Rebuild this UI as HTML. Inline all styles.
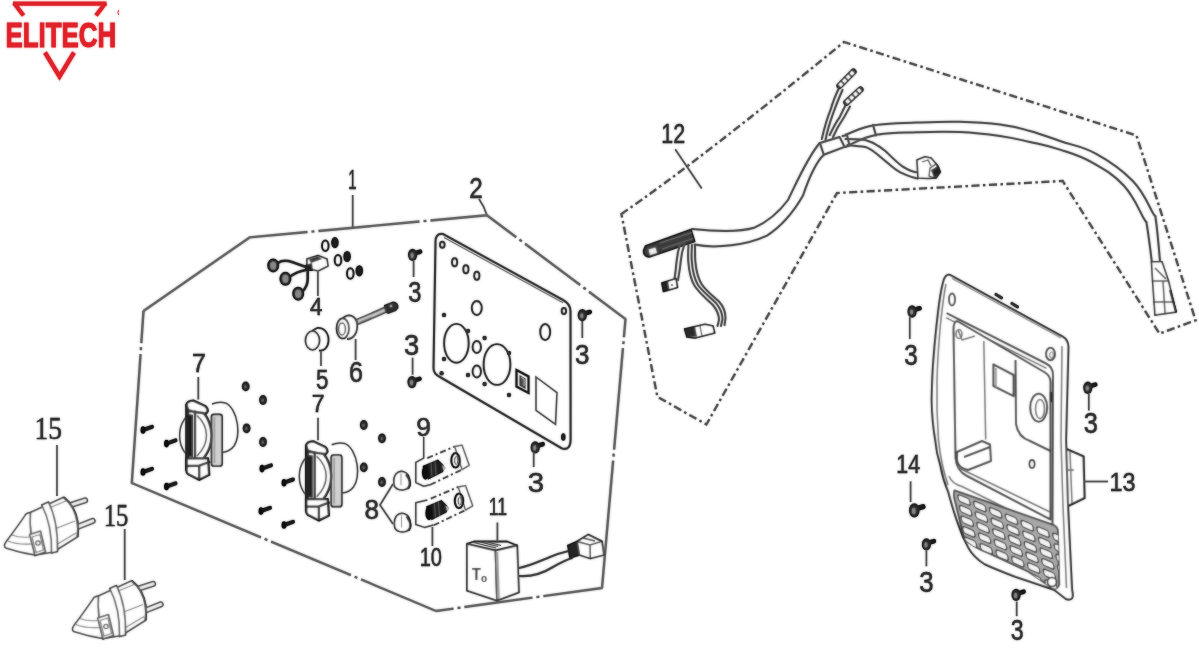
<!DOCTYPE html><html><head><meta charset="utf-8"><style>
html,body{margin:0;padding:0;background:#fff;}
svg{display:block;}
</style></head><body>
<svg width="1199" height="658" viewBox="0 0 1199 658">
<defs>
<g id="screw"><path d="M0,-1 L7.5,-3.2" stroke="#1a1a1a" stroke-width="4.6" stroke-linecap="round"/><ellipse cx="0" cy="0" rx="4.6" ry="6.2" fill="#262626"/><ellipse cx="-0.5" cy="0.5" rx="1.7" ry="2.8" fill="#888"/></g>
<g id="bolt"><path d="M0,0 L9,-3.2" stroke="#1e1e1e" stroke-width="4" stroke-linecap="round"/><ellipse cx="0" cy="0" rx="2.5" ry="3.8" fill="#111"/></g>
<g id="nut"><ellipse cx="0" cy="0" rx="3.9" ry="4.9" fill="#262626"/><ellipse cx="-0.3" cy="0.3" rx="1.2" ry="1.8" fill="#666"/></g>
<g id="washer"><ellipse cx="0" cy="0" rx="3.3" ry="5.3" fill="none" stroke="#2a2a2a" stroke-width="2"/></g>
</defs>
<filter id="fb" filterUnits="userSpaceOnUse" x="0" y="0" width="1199" height="658"><feGaussianBlur stdDeviation="1"/></filter>
<rect width="1199" height="658" fill="#fff"/>
<filter id="f0" filterUnits="userSpaceOnUse" x="0" y="0" width="1199" height="658"><feOffset dx="0" dy="0"/></filter>
<g filter="url(#f0)"><g id="all">

<g fill="#e0222a" stroke="none">
<path d="M13,1.4 L106.5,1.4 L106.5,5.8 L13,5.8 Z"/>
<path d="M14,3 L23.5,15.5" stroke="#e0222a" stroke-width="4.2" stroke-linecap="butt"/>
<path d="M105.5,3 L96,15.5" stroke="#e0222a" stroke-width="4.2" stroke-linecap="butt"/>
<path d="M45,52.5 L59.5,76.5 L74,52.5" stroke="#e0222a" stroke-width="4.4" fill="none" stroke-linejoin="miter"/>
<text transform="translate(6.3,46.5) scale(0.75,1)" font-family="Liberation Sans" font-weight="bold" font-size="34.5" x="-1" stroke="#e0222a" stroke-width="0.9">ELITECH</text>
<path d="M118.8,10 Q117,12.5 118.8,15" stroke="#e0222a" stroke-width="0.9" fill="none"/>
</g>
<path d="M131.8,483 L436,611" stroke="#666" stroke-width="2.4" fill="none" stroke-dasharray="140.1 4.0 3.0 4.0 86.6 4.0 3.0 4.0 83.3 1000.0" stroke-linecap="butt"/>
<path d="M436,611 L602,588" stroke="#666" stroke-width="2.4" fill="none" stroke-dasharray="17.7 4.0 3.0 4.0 68.7 4.0 3.0 4.0 61.1 1000.0" stroke-linecap="butt"/>
<path d="M602,588 L625.5,319" stroke="#666" stroke-width="2.4" fill="none" stroke-dasharray="127.9 4.0 3.0 4.0 101.8 4.0 3.0 4.0 20.3 1000.0" stroke-linecap="butt"/>
<path d="M625.5,319 L486.9,215.2" stroke="#666" stroke-width="2.4" fill="none" stroke-dasharray="45.6 4.0 3.0 4.0 68.9 4.0 3.0 4.0 38.7 1000.0" stroke-linecap="butt"/>
<path d="M486.9,215.2 L249.6,237.4" stroke="#666" stroke-width="2.4" fill="none" stroke-dasharray="56.7 4.0 3.0 4.0 101.5 4.0 3.0 4.0 60.2 1000.0" stroke-linecap="butt"/>
<path d="M249.6,237.4 L143.5,311" stroke="#666" stroke-width="2.4" fill="none" stroke-dasharray="131.1 1000.0" stroke-linecap="butt"/>
<path d="M143.5,311 L131.8,483" stroke="#666" stroke-width="2.4" fill="none" stroke-dasharray="32.2 4.0 3.0 4.0 131.2 1000.0" stroke-linecap="butt"/>
<path d="M131.8,483 L133,483.5 M436,611 L437,610.8 M602,588 L602.1,587 M625.5,319 L625,318.6 M486.9,215.2 L486,215.3 M249.6,237.4 L249,237.8 M143.5,311 L143.4,312" stroke="#707070" stroke-width="2.2" stroke-linecap="round"/>
<path d="M621.4,214 Q700,160 844,42 L1136.5,135.5 L1195.6,320.3 L1159.5,333.6 L1062.7,181 L837,193 L706.4,424.5 L657.4,396.8 Z" stroke="#555" stroke-width="2.3" fill="none" stroke-dasharray="8 3.5 2.5 3.5"/>
<path d="M352.7,195 L352.7,228" stroke="#555" stroke-width="1.7" fill="none"/>
<path d="M479,199 Q484,206 486.9,215" stroke="#555" stroke-width="1.7" fill="none"/>
<path d="M675.2,149.2 L701.7,188.5" stroke="#555" stroke-width="1.7" fill="none"/>
<text transform="translate(352.5,189.0) scale(0.557,1)" x="0" y="0" text-anchor="middle" font-family="Liberation Sans" font-size="26.8" fill="#333" stroke="#333" stroke-width="0.45">1</text>
<text transform="translate(476.1,197.6) scale(0.836,1)" x="0" y="0" text-anchor="middle" font-family="Liberation Sans" font-size="29.0" fill="#333" stroke="#333" stroke-width="0.45">2</text>
<text transform="translate(673.3,142.8) scale(0.798,1)" x="0" y="0" text-anchor="middle" font-family="Liberation Sans" font-size="26.9" fill="#333" stroke="#333" stroke-width="0.45">12</text>
<path d="M435.5,243 Q435,233 443,234 L563,300 Q570.5,304 570.5,311 L570.6,438 Q571,451 562,448.5 L440,377 Q433.5,374 433.5,368 Z" stroke="#3a3a3a" stroke-width="2.1" fill="none"/>
<ellipse cx="442.3" cy="244.7" rx="2.3" ry="3" stroke="#3a3a3a" stroke-width="1.9" fill="none"/>
<ellipse cx="454.6" cy="262.3" rx="2.6" ry="4" stroke="#3a3a3a" stroke-width="1.9" fill="none"/>
<ellipse cx="465.9" cy="269.3" rx="2.6" ry="4" stroke="#3a3a3a" stroke-width="1.9" fill="none"/>
<ellipse cx="476.8" cy="275.7" rx="2.6" ry="4" stroke="#3a3a3a" stroke-width="1.9" fill="none"/>
<ellipse cx="476.8" cy="308" rx="5" ry="7" stroke="#3a3a3a" stroke-width="1.9" fill="none"/>
<ellipse cx="545.2" cy="332" rx="5" ry="8" stroke="#3a3a3a" stroke-width="1.9" fill="none"/>
<ellipse cx="563.9" cy="311" rx="2.2" ry="3" stroke="#3a3a3a" stroke-width="1.9" fill="none"/>
<ellipse cx="456.4" cy="343.3" rx="12.3" ry="19.4" stroke="#3a3a3a" stroke-width="1.9" fill="none"/>
<ellipse cx="497" cy="364.5" rx="13.4" ry="20.4" stroke="#3a3a3a" stroke-width="1.9" fill="none"/>
<ellipse cx="476.8" cy="347" rx="4.2" ry="6" stroke="#3a3a3a" stroke-width="1.9" fill="none"/>
<ellipse cx="476.8" cy="371.5" rx="4.2" ry="6" stroke="#3a3a3a" stroke-width="1.9" fill="none"/>
<circle cx="444" cy="315" r="2.2" fill="#333"/>
<circle cx="468" cy="331" r="2.2" fill="#333"/>
<circle cx="444" cy="359" r="2.2" fill="#333"/>
<circle cx="468" cy="375" r="2.2" fill="#333"/>
<circle cx="484.6" cy="338" r="2.2" fill="#333"/>
<circle cx="484.6" cy="384" r="2.2" fill="#333"/>
<circle cx="509" cy="353" r="2.2" fill="#333"/>
<circle cx="509" cy="395" r="2.2" fill="#333"/>
<circle cx="441.6" cy="373.3" r="2.2" fill="#333"/>
<ellipse cx="563.3" cy="437" rx="2.3" ry="3.8" fill="#222"/>
<path d="M536,377 L557,392.7 L555.5,424.4 L536,410.3 Z" stroke="#555" stroke-width="1.5" fill="none"/>
<path d="M516.5,370 L528.5,376.5 L528.5,393 L516.5,386.5 Z" stroke="#222" stroke-width="2.2" fill="none"/><path d="M519.5,375 L525.5,378.5 L525.5,389 L519.5,385.5 Z" fill="#444"/><path d="M521,377 L524,379 L524,386" stroke="#ccc" stroke-width="1" fill="none"/>
<path d="M444,237.5 L563,302.8" stroke="#777" stroke-width="1.1"/>
<use href="#screw" x="412.6" y="254.9"/>
<use href="#screw" x="582.3" y="315.2"/>
<use href="#screw" x="412" y="382.1"/>
<use href="#screw" x="535.2" y="447.4"/>
<use href="#screw" x="912.1" y="311.5"/>
<use href="#screw" x="1087.8" y="387.8"/>
<use href="#screw" x="926.4" y="544.4"/>
<use href="#screw" x="1016.1" y="594.9"/>
<path d="M413.6,261 L413.6,277" stroke="#555" stroke-width="1.7" fill="none"/>
<text transform="translate(414.9,301.7) scale(0.810,1)" x="0" y="0" text-anchor="middle" font-family="Liberation Sans" font-size="29.2" fill="#333" stroke="#333" stroke-width="0.45">3</text>
<path d="M582.3,321 L582.3,338" stroke="#555" stroke-width="1.7" fill="none"/>
<text transform="translate(582.3,363.8) scale(0.931,1)" x="0" y="0" text-anchor="middle" font-family="Liberation Sans" font-size="27.9" fill="#333" stroke="#333" stroke-width="0.45">3</text>
<path d="M412.6,357.7 L412.6,374.7" stroke="#555" stroke-width="1.7" fill="none"/>
<text transform="translate(411.5,355.0) scale(0.934,1)" x="0" y="0" text-anchor="middle" font-family="Liberation Sans" font-size="29.2" fill="#333" stroke="#333" stroke-width="0.45">3</text>
<path d="M533.7,452 L533.7,467" stroke="#555" stroke-width="1.7" fill="none"/>
<text transform="translate(535.9,491.5) scale(1.053,1)" x="0" y="0" text-anchor="middle" font-family="Liberation Sans" font-size="27.9" fill="#333" stroke="#333" stroke-width="0.45">3</text>
<path d="M909.8,317.2 L909.8,338.9" stroke="#555" stroke-width="1.7" fill="none"/>
<text transform="translate(911.0,364.5) scale(0.816,1)" x="0" y="0" text-anchor="middle" font-family="Liberation Sans" font-size="29.7" fill="#333" stroke="#333" stroke-width="0.45">3</text>
<path d="M1088.8,393.7 L1088.8,410.5" stroke="#555" stroke-width="1.7" fill="none"/>
<text transform="translate(1090.8,433.3) scale(0.864,1)" x="0" y="0" text-anchor="middle" font-family="Liberation Sans" font-size="29.3" fill="#333" stroke="#333" stroke-width="0.45">3</text>
<path d="M926.4,550.5 L926.4,566.3" stroke="#555" stroke-width="1.7" fill="none"/>
<text transform="translate(926.5,591.8) scale(0.887,1)" x="0" y="0" text-anchor="middle" font-family="Liberation Sans" font-size="29.0" fill="#333" stroke="#333" stroke-width="0.45">3</text>
<path d="M1016.7,601.6 L1016.7,616.2" stroke="#555" stroke-width="1.7" fill="none"/>
<text transform="translate(1017.3,639.9) scale(0.769,1)" x="0" y="0" text-anchor="middle" font-family="Liberation Sans" font-size="30.1" fill="#333" stroke="#333" stroke-width="0.45">3</text>
<path d="M692,229 C712,231 737,233 754,227.8 C770,221 782,208 788,200 C796,184 807,158 819.7,143" stroke="#555" stroke-width="2" fill="none" stroke-linecap="round" stroke-linejoin="round"/>
<path d="M694.6,244.6 C716,249 747,245 767,235.6 C785,224 797,206 803,195.5 C809,178 815,163 823.8,154.8" stroke="#555" stroke-width="2" fill="none" stroke-linecap="round" stroke-linejoin="round"/>
<path d="M846.0,134.5 C851.7,132.7 860.2,127.7 874.4,125.3 C888.6,122.9 899.7,123.3 916.8,122.6 C933.9,121.9 943.4,121.4 960.0,121.8 C976.6,122.2 986.0,122.7 1000.0,124.5 C1014.0,126.3 1018.0,127.7 1030.0,131.0 C1042.0,134.3 1046.8,136.4 1060.0,141.0 C1073.2,145.6 1081.6,145.8 1096.2,153.8 C1110.8,161.8 1121.5,169.2 1132.8,181.0 C1144.1,192.8 1148.2,204.8 1152.8,212.8 C1157.4,220.8 1154.5,211.2 1156.0,221.0 C1157.5,230.8 1159.3,253.8 1160.1,262.0" stroke="#555" stroke-width="2" fill="none" stroke-linecap="round" stroke-linejoin="round"/>
<path d="M849.0,145.0 C854.4,143.0 862.2,137.6 875.8,135.0 C889.4,132.4 900.0,132.8 916.8,132.2 C933.6,131.6 943.4,131.2 960.0,132.0 C976.6,132.8 986.0,134.0 1000.0,136.0 C1014.0,138.0 1018.0,139.3 1030.0,142.0 C1042.0,144.7 1047.6,145.5 1060.0,149.6 C1072.4,153.7 1079.2,155.1 1091.9,162.3 C1104.6,169.5 1113.3,174.3 1123.7,185.5 C1134.1,196.7 1139.0,210.2 1143.7,218.3 C1148.4,226.4 1145.4,217.3 1147.0,226.0 C1148.6,234.7 1150.9,254.8 1151.9,262.0" stroke="#555" stroke-width="2" fill="none" stroke-linecap="round" stroke-linejoin="round"/>
<path d="M873,125 L876,135.5" stroke="#555" stroke-width="2" fill="none" stroke-linecap="round" stroke-linejoin="round"/>
<path d="M821.8,139 C825,125 828,116 830.7,109.4 C833,101 836,94 839.6,86.7" stroke="#555" stroke-width="2" fill="none" stroke-linecap="round" stroke-linejoin="round"/>
<path d="M825.5,140 C828,127 831.5,118 834,111 C836.5,104 839,98 842.5,90" stroke="#555" stroke-width="2" fill="none" stroke-linecap="round" stroke-linejoin="round"/>
<path d="M829.7,135 C833,128 836,122 839.6,117.3 C842,112 844,108 846.5,103.4" stroke="#555" stroke-width="2" fill="none" stroke-linecap="round" stroke-linejoin="round"/>
<path d="M833,137 C836,130 839.5,124 843,119 C845.5,115 847.5,111 850,106.5" stroke="#555" stroke-width="2" fill="none" stroke-linecap="round" stroke-linejoin="round"/>
<path d="M839.6,85.7 L853.4,71.8" stroke="#333" stroke-width="6.5" stroke-linecap="round"/>
<path d="M839.6,85.7 L853.4,71.8" stroke="#fff" stroke-width="3.6" stroke-dasharray="3.5 1.8"/>
<path d="M846.5,102.5 L860.4,89.6" stroke="#333" stroke-width="6.5" stroke-linecap="round"/>
<path d="M846.5,102.5 L860.4,89.6" stroke="#fff" stroke-width="3.6" stroke-dasharray="3.5 1.8"/>
<path d="M819.9,143 L839.6,137 L844.6,146.9 L823.8,154.8 Z" stroke="#555" stroke-width="2" fill="none" stroke-linecap="round" stroke-linejoin="round" fill="#fff"/>
<path d="M842.6,136 L847,135 L849.5,145.5 L845,147" stroke="#555" stroke-width="2" fill="none" stroke-linecap="round" stroke-linejoin="round"/>
<path d="M845.5,139 C852,139 858,139 865.3,140 C873,142 879,146 885,150.8 C891,156 896,162 902.8,166.6 C908,170 913,172 918.6,172.6" stroke="#555" stroke-width="2" fill="none" stroke-linecap="round" stroke-linejoin="round"/>
<path d="M847.5,145 C853,145.5 859,146 865.3,146.9 C872,149 878,155 885,160.7 C890,165 895,170 900.8,172.6 C906,175 911,177.5 917.6,178.5" stroke="#555" stroke-width="2" fill="none" stroke-linecap="round" stroke-linejoin="round"/>
<path d="M917,160 L925,156.8 L931,158 L938,166 L940.3,172 L936,178 L928,178.5 L918,178 Z" stroke="#333" stroke-width="1.6" fill="#fff" stroke-linejoin="round"/>
<path d="M922,162 L928,160 L931,166 M930,168 L936,164 L940,172 L935,178 L929,176 Z" stroke="#333" stroke-width="1.3" fill="none"/>
<path d="M931,170 L938,166 L940,172 L934,178 Z" fill="#222"/>
<path d="M645.5,246 L691,229.6 L694.7,241.4 L649.1,256.9 Q643,256 643.6,250.5 Z" fill="#3a3a3a" stroke="#222" stroke-width="1.6" stroke-linejoin="round"/>
<path d="M660,243 L692,232.5 M662,249 L693,238.5" stroke="#777" stroke-width="1"/>
<path d="M648.5,249.5 L655.5,247.5 L657,253 L650,255 Z" fill="#eee"/>
<path d="M680.5,243 C678,250 677,256 676.5,262 C676,268 675.5,273 674.5,279" stroke="#555" stroke-width="2" fill="none" stroke-linecap="round" stroke-linejoin="round"/>
<path d="M684.5,244 C682,251 681,257 680.5,263 C680,269 679,274 678,280" stroke="#555" stroke-width="2" fill="none" stroke-linecap="round" stroke-linejoin="round"/>
<path d="M661.9,283 L676,278.5 L677.5,287.5 L663.5,291.5 Z" fill="#fff" stroke="#222" stroke-width="1.6" stroke-linejoin="round"/>
<path d="M661.9,283 L668,281 L669.5,289.5 L663.5,291.5 Z" fill="#222"/><circle cx="672" cy="285" r="1.1" fill="#333"/>
<path d="M688.5,245 C688,252 688,258 688.3,261.4 C689,272 691,280 694.7,286 C700,294 707,299 712.9,305 C717,310 719,314 719,320 L717.5,326" stroke="#555" stroke-width="2" fill="none" stroke-linecap="round" stroke-linejoin="round"/>
<path d="M692,245 C691.5,252 691.5,258 691.8,261 C692.5,271 694.5,279 698,285 C703,292 710,297 716,303 C720,308 722.5,313 722.5,319 L721,326" stroke="#555" stroke-width="2" fill="none" stroke-linecap="round" stroke-linejoin="round"/>
<path d="M695,245 C695,252 695,258 695.3,261 C696,270 698,278 701.5,284 C706,291 713,296 719,301.5 C723,306 725.5,312 725.5,318 L724.5,325" stroke="#555" stroke-width="2" fill="none" stroke-linecap="round" stroke-linejoin="round"/>
<path d="M684.6,329 L705,324.3 L713,326 L714.7,333 L695,338 L687,337 Z" fill="#fff" stroke="#222" stroke-width="1.6" stroke-linejoin="round"/>
<path d="M684.6,329 L695,326.5 L697,336.5 L687,337 Z" fill="#2a2a2a"/><path d="M700,326 L702,336" stroke="#444" stroke-width="1.2"/>
<path d="M1151.5,261.7 L1162,261.7 L1168.5,281 L1176,312 L1155,315 L1152.6,281 Z" stroke="#444" stroke-width="1.6" fill="#fff"/>
<path d="M1152.6,281 L1168.5,281 M1153.5,302 L1173,302 M1163,281 L1165,313 M1155,268 L1166,279" stroke="#444" stroke-width="1.5" fill="none"/>
<path d="M1170,290 L1176,312" stroke="#222" stroke-width="2.2"/>
<path d="M1064,448 L1083.5,456.5 L1084.5,498 L1066,507" stroke="#2e2e2e" stroke-width="2.1" fill="#fff" stroke-linejoin="round"/>
<path d="M1070,452 L1072,503 M1068,470 L1074,470" stroke="#666" stroke-width="1.5" fill="none" stroke-linejoin="round"/>
<path d="M949.8,274.9 L1062.6,336.6 Q1068.4,340 1068.4,347 L1066,440 L1068,506 L1072,590 Q1075,602 1066,599 L1054.1,589.8 C1040,585 1028,581 1015.4,576.8 C1003,572 993,568 984.4,564 C977,559 972,554 968.9,548.4 C964,540 961,533 958.6,525.2 C954,513 951,502 948.2,491.6 C944,482 942,474 940.5,465.8 C937,455 936,448 935.3,440 C933,427 932,414 931.7,400 C932,385 932.5,370 933.8,355.7 C935,340 936.5,326 938,313.2 C939.5,300 941,290 943.4,281.3 Q945.5,274 949.8,274.9 Z" fill="#fff" stroke="#3a3a3a" stroke-width="2" fill="none" stroke-linejoin="round"/>
<path d="M946,284 C943.5,296 942,310 940.5,324 C939,340 937.5,360 937,380 C936.5,400 937,420 938.5,440 C940,455 943,470 948,485" stroke="#666" stroke-width="1.5" fill="none" stroke-linejoin="round"/>
<path d="M1062,346 L1061,440 L1063,506 L1066.5,588" stroke="#666" stroke-width="1.5" fill="none" stroke-linejoin="round"/>
<ellipse cx="952" cy="299.4" rx="3" ry="6" stroke="#3a3a3a" stroke-width="2" fill="none" stroke-linejoin="round"/>
<ellipse cx="1050.5" cy="354" rx="4.5" ry="6.3" stroke="#3a3a3a" stroke-width="2" fill="none" stroke-linejoin="round"/><ellipse cx="1051.5" cy="355" rx="1.8" ry="3.2" fill="none" stroke="#666" stroke-width="1"/>
<path d="M996,294.5 L1001.5,297.8 M1012,303.5 L1017.5,306.8" stroke="#333" stroke-width="3.2" stroke-linecap="round"/>
<path d="M952,278.5 L1061,338" stroke="#777" stroke-width="1.1"/>
<path d="M946.6,313.2 L1046,363.5 Q1053,367 1053,375 L1052.5,525" stroke="#3a3a3a" stroke-width="2" fill="none" stroke-linejoin="round"/>
<path d="M946,317.6 L1046.5,368.3" stroke="#666" stroke-width="1.5" fill="none" stroke-linejoin="round"/>
<path d="M958,321.5 L1045,372.5 Q1050.5,376 1050.5,382 L1050.5,519.5 L967,476 Q956.5,471 955.5,458 L953.5,330 Q953.5,320 958,321.5 Z" fill="#fff" stroke="#3a3a3a" stroke-width="2" fill="none" stroke-linejoin="round"/>
<path d="M949,476 Q952,484 962,486.5 L1052.5,531" stroke="#666" stroke-width="1.5" fill="none" stroke-linejoin="round"/>
<path d="M983.8,341 L985.7,439.6" stroke="#666" stroke-width="1.5" fill="none" stroke-linejoin="round"/>
<path d="M1015.5,360 L1016,424 Q1018,437 1030,441 L1050.5,451" stroke="#3a3a3a" stroke-width="2" fill="none" stroke-linejoin="round"/>
<path d="M993.4,364.3 L1013.6,375 L1013.6,396.2 L993.4,386 Z" stroke="#3a3a3a" stroke-width="2" fill="none" stroke-linejoin="round"/>
<path d="M996,368 L996,388" stroke="#888" stroke-width="1.5"/>
<ellipse cx="1038.7" cy="407.7" rx="8.5" ry="14" stroke="#3a3a3a" stroke-width="2" fill="none" stroke-linejoin="round"/><ellipse cx="1040" cy="409" rx="4.5" ry="9.5" stroke="#666" stroke-width="1.5" fill="none" stroke-linejoin="round"/>
<ellipse cx="1032" cy="464" rx="2.6" ry="4" fill="none" stroke="#333" stroke-width="1.8"/>
<path d="M1051,392 L1051,402" stroke="#222" stroke-width="2.5"/>
<ellipse cx="959" cy="334" rx="3" ry="4.5" stroke="#666" stroke-width="1.5" fill="none" stroke-linejoin="round"/><path d="M958,330 L962,340 L975,336" stroke="#666" stroke-width="1.5" fill="none" stroke-linejoin="round"/>
<path d="M957,452 L982,441 L990,444.5 L991,461 L968,470 Q958,468 957,460 Z M964,457 L990,447" stroke="#3a3a3a" stroke-width="2" fill="none" stroke-linejoin="round"/>
<path d="M957,467 L1050,512" stroke="#666" stroke-width="1.5" fill="none" stroke-linejoin="round"/>
<clipPath id="gclip"><path d="M954.7,490.3 L1054.1,525.2 Q1058,527 1058,532 L1059.3,584.6 Q1058,590 1052,588 L1028.3,571.7 L989.5,553.6 Q970,546 964,538 L954,497 Q953.5,491 954.7,490.3 Z"/></clipPath>
<path d="M954.7,490.3 L1054.1,525.2 Q1058,527 1058,532 L1059.3,584.6 Q1058,590 1052,588 L1028.3,571.7 L989.5,553.6 Q970,546 964,538 L954,497 Q953.5,491 954.7,490.3 Z" fill="#a8a8a8" stroke="#3e3e3e" stroke-width="1.8"/>
<g clip-path="url(#gclip)">
<rect x="0" y="0" width="12" height="7" rx="2.6" transform="matrix(1,0.42,0.16,1,957.5,494.0)" fill="#f4f4f4" stroke="#333" stroke-width="1.3"/>
<rect x="0" y="0" width="12" height="7" rx="2.6" transform="matrix(1,0.42,0.16,1,959.1,504.6)" fill="#f4f4f4" stroke="#333" stroke-width="1.3"/>
<rect x="0" y="0" width="12" height="7" rx="2.6" transform="matrix(1,0.42,0.16,1,960.7,515.2)" fill="#f4f4f4" stroke="#333" stroke-width="1.3"/>
<rect x="0" y="0" width="12" height="7" rx="2.6" transform="matrix(1,0.42,0.16,1,962.3,525.8)" fill="#f4f4f4" stroke="#333" stroke-width="1.3"/>
<rect x="0" y="0" width="12" height="7" rx="2.6" transform="matrix(1,0.42,0.16,1,963.9,536.4)" fill="#f4f4f4" stroke="#333" stroke-width="1.3"/>
<rect x="0" y="0" width="12" height="7" rx="2.6" transform="matrix(1,0.42,0.16,1,965.5,547.0)" fill="#f4f4f4" stroke="#333" stroke-width="1.3"/>
<rect x="0" y="0" width="12" height="7" rx="2.6" transform="matrix(1,0.42,0.16,1,973.3,500.4)" fill="#f4f4f4" stroke="#333" stroke-width="1.3"/>
<rect x="0" y="0" width="12" height="7" rx="2.6" transform="matrix(1,0.42,0.16,1,974.9,511.0)" fill="#f4f4f4" stroke="#333" stroke-width="1.3"/>
<rect x="0" y="0" width="12" height="7" rx="2.6" transform="matrix(1,0.42,0.16,1,976.5,521.6)" fill="#f4f4f4" stroke="#333" stroke-width="1.3"/>
<rect x="0" y="0" width="12" height="7" rx="2.6" transform="matrix(1,0.42,0.16,1,978.1,532.2)" fill="#f4f4f4" stroke="#333" stroke-width="1.3"/>
<rect x="0" y="0" width="12" height="7" rx="2.6" transform="matrix(1,0.42,0.16,1,979.7,542.8)" fill="#f4f4f4" stroke="#333" stroke-width="1.3"/>
<rect x="0" y="0" width="12" height="7" rx="2.6" transform="matrix(1,0.42,0.16,1,981.3,553.4)" fill="#f4f4f4" stroke="#333" stroke-width="1.3"/>
<rect x="0" y="0" width="12" height="7" rx="2.6" transform="matrix(1,0.42,0.16,1,989.1,506.8)" fill="#f4f4f4" stroke="#333" stroke-width="1.3"/>
<rect x="0" y="0" width="12" height="7" rx="2.6" transform="matrix(1,0.42,0.16,1,990.7,517.4)" fill="#f4f4f4" stroke="#333" stroke-width="1.3"/>
<rect x="0" y="0" width="12" height="7" rx="2.6" transform="matrix(1,0.42,0.16,1,992.3,528.0)" fill="#f4f4f4" stroke="#333" stroke-width="1.3"/>
<rect x="0" y="0" width="12" height="7" rx="2.6" transform="matrix(1,0.42,0.16,1,993.9,538.6)" fill="#f4f4f4" stroke="#333" stroke-width="1.3"/>
<rect x="0" y="0" width="12" height="7" rx="2.6" transform="matrix(1,0.42,0.16,1,995.5,549.2)" fill="#f4f4f4" stroke="#333" stroke-width="1.3"/>
<rect x="0" y="0" width="12" height="7" rx="2.6" transform="matrix(1,0.42,0.16,1,997.1,559.8)" fill="#f4f4f4" stroke="#333" stroke-width="1.3"/>
<rect x="0" y="0" width="12" height="7" rx="2.6" transform="matrix(1,0.42,0.16,1,1004.9,513.2)" fill="#f4f4f4" stroke="#333" stroke-width="1.3"/>
<rect x="0" y="0" width="12" height="7" rx="2.6" transform="matrix(1,0.42,0.16,1,1006.5,523.8)" fill="#f4f4f4" stroke="#333" stroke-width="1.3"/>
<rect x="0" y="0" width="12" height="7" rx="2.6" transform="matrix(1,0.42,0.16,1,1008.1,534.4)" fill="#f4f4f4" stroke="#333" stroke-width="1.3"/>
<rect x="0" y="0" width="12" height="7" rx="2.6" transform="matrix(1,0.42,0.16,1,1009.7,545.0)" fill="#f4f4f4" stroke="#333" stroke-width="1.3"/>
<rect x="0" y="0" width="12" height="7" rx="2.6" transform="matrix(1,0.42,0.16,1,1011.3,555.6)" fill="#f4f4f4" stroke="#333" stroke-width="1.3"/>
<rect x="0" y="0" width="12" height="7" rx="2.6" transform="matrix(1,0.42,0.16,1,1012.9,566.2)" fill="#f4f4f4" stroke="#333" stroke-width="1.3"/>
<rect x="0" y="0" width="12" height="7" rx="2.6" transform="matrix(1,0.42,0.16,1,1020.7,519.6)" fill="#f4f4f4" stroke="#333" stroke-width="1.3"/>
<rect x="0" y="0" width="12" height="7" rx="2.6" transform="matrix(1,0.42,0.16,1,1022.3,530.2)" fill="#f4f4f4" stroke="#333" stroke-width="1.3"/>
<rect x="0" y="0" width="12" height="7" rx="2.6" transform="matrix(1,0.42,0.16,1,1023.9,540.8)" fill="#f4f4f4" stroke="#333" stroke-width="1.3"/>
<rect x="0" y="0" width="12" height="7" rx="2.6" transform="matrix(1,0.42,0.16,1,1025.5,551.4)" fill="#f4f4f4" stroke="#333" stroke-width="1.3"/>
<rect x="0" y="0" width="12" height="7" rx="2.6" transform="matrix(1,0.42,0.16,1,1027.1,562.0)" fill="#f4f4f4" stroke="#333" stroke-width="1.3"/>
<rect x="0" y="0" width="12" height="7" rx="2.6" transform="matrix(1,0.42,0.16,1,1028.7,572.6)" fill="#f4f4f4" stroke="#333" stroke-width="1.3"/>
<rect x="0" y="0" width="12" height="7" rx="2.6" transform="matrix(1,0.42,0.16,1,1036.5,526.0)" fill="#f4f4f4" stroke="#333" stroke-width="1.3"/>
<rect x="0" y="0" width="12" height="7" rx="2.6" transform="matrix(1,0.42,0.16,1,1038.1,536.6)" fill="#f4f4f4" stroke="#333" stroke-width="1.3"/>
<rect x="0" y="0" width="12" height="7" rx="2.6" transform="matrix(1,0.42,0.16,1,1039.7,547.2)" fill="#f4f4f4" stroke="#333" stroke-width="1.3"/>
<rect x="0" y="0" width="12" height="7" rx="2.6" transform="matrix(1,0.42,0.16,1,1041.3,557.8)" fill="#f4f4f4" stroke="#333" stroke-width="1.3"/>
<rect x="0" y="0" width="12" height="7" rx="2.6" transform="matrix(1,0.42,0.16,1,1042.9,568.4)" fill="#f4f4f4" stroke="#333" stroke-width="1.3"/>
<rect x="0" y="0" width="12" height="7" rx="2.6" transform="matrix(1,0.42,0.16,1,1044.5,579.0)" fill="#f4f4f4" stroke="#333" stroke-width="1.3"/>
<rect x="0" y="0" width="12" height="7" rx="2.6" transform="matrix(1,0.42,0.16,1,1052.3,532.4)" fill="#f4f4f4" stroke="#333" stroke-width="1.3"/>
<rect x="0" y="0" width="12" height="7" rx="2.6" transform="matrix(1,0.42,0.16,1,1053.9,543.0)" fill="#f4f4f4" stroke="#333" stroke-width="1.3"/>
<rect x="0" y="0" width="12" height="7" rx="2.6" transform="matrix(1,0.42,0.16,1,1055.5,553.6)" fill="#f4f4f4" stroke="#333" stroke-width="1.3"/>
<rect x="0" y="0" width="12" height="7" rx="2.6" transform="matrix(1,0.42,0.16,1,1057.1,564.2)" fill="#f4f4f4" stroke="#333" stroke-width="1.3"/>
<rect x="0" y="0" width="12" height="7" rx="2.6" transform="matrix(1,0.42,0.16,1,1058.7,574.8)" fill="#f4f4f4" stroke="#333" stroke-width="1.3"/>
<rect x="0" y="0" width="12" height="7" rx="2.6" transform="matrix(1,0.42,0.16,1,1060.3,585.4)" fill="#f4f4f4" stroke="#333" stroke-width="1.3"/>
</g>
<circle cx="1052" cy="582" r="4.5" fill="#fff" stroke="#333" stroke-width="1.6"/>
<path d="M1084.5,481.5 L1108,481.5" stroke="#555" stroke-width="1.7" fill="none"/>
<text transform="translate(1122.4,490.6) scale(0.881,1)" x="0" y="0" text-anchor="middle" font-family="Liberation Sans" font-size="26.5" fill="#333" stroke="#333" stroke-width="0.45">13</text>
<use href="#screw" x="914.3" y="510.4" transform="translate(914.3,510.4) scale(1.15) translate(-914.3,-510.4)"/>
<path d="M910.6,481.3 L910.6,502" stroke="#555" stroke-width="1.7" fill="none"/>
<text transform="translate(908.2,472.8) scale(0.834,1)" x="0" y="0" text-anchor="middle" font-family="Liberation Sans" font-size="25.6" fill="#333" stroke="#333" stroke-width="0.45">14</text>
<g transform="translate(0,0)"><path d="M212,404 C217,402 221,402 225.2,402.9 C231,405 236,414 237.4,424 C238.5,432 238,440 234,446 C231,450 227,452 222.1,452.4" stroke="#555" stroke-width="1.5" fill="none" stroke-linejoin="round"/><ellipse cx="196" cy="435.6" rx="16.4" ry="23" stroke="#555" stroke-width="1.5" fill="none"/><rect x="211.5" y="414.3" width="10.6" height="51.7" rx="2.5" fill="#d0d0d0" stroke="#333" stroke-width="1.7"/><path d="M214.5,417 L214.5,463" stroke="#999" stroke-width="1.6"/><path d="M188,411 L203,412 C208,418 211.5,427 211.5,435.6 C211.5,446 208,453 203,459 L188,459 Z" fill="#fff" stroke="#262626" stroke-width="2.4" stroke-linejoin="round"/><path d="M197,415.5 C203,421 206.5,428 206.5,435.6 C206.5,444 203,450 197,456" stroke="#444" stroke-width="1.5" fill="none"/><path d="M186.4,405 Q187,401 193.3,400.6 L205,406 Q207.7,408 207.7,411 L206,413.5 L195,412 L188.2,410 Z" fill="#fff" stroke="#262626" stroke-width="2.3" fill="none" stroke-linejoin="round" stroke-linecap="round"/><path d="M186.4,458.4 L208,458.4 L209.2,474.8 L199.2,479.7 L188,474 Q186.4,472.5 186.4,470 Z" fill="#fff" stroke="#262626" stroke-width="2.3" fill="none" stroke-linejoin="round" stroke-linecap="round"/><path d="M199.2,465.7 L199.2,479.4 M187,466 L199.2,465.7 L209.2,462" stroke="#262626" stroke-width="2.3" fill="none" stroke-linejoin="round" stroke-linecap="round"/><path d="M186.4,405 L186.4,470 M195,411.5 L195,458" stroke="#262626" stroke-width="2.3" fill="none" stroke-linejoin="round" stroke-linecap="round"/><path d="M188.6,414 L193,414.7 L193,457 L188.6,456.5 Z" fill="#1e1e1e"/><path d="M198.3,377 L198.3,399.5" stroke="#555" stroke-width="1.7" fill="none"/></g>
<g transform="translate(119.7,40.7)"><path d="M212,404 C217,402 221,402 225.2,402.9 C231,405 236,414 237.4,424 C238.5,432 238,440 234,446 C231,450 227,452 222.1,452.4" stroke="#555" stroke-width="1.5" fill="none" stroke-linejoin="round"/><ellipse cx="196" cy="435.6" rx="16.4" ry="23" stroke="#555" stroke-width="1.5" fill="none"/><rect x="211.5" y="414.3" width="10.6" height="51.7" rx="2.5" fill="#d0d0d0" stroke="#333" stroke-width="1.7"/><path d="M214.5,417 L214.5,463" stroke="#999" stroke-width="1.6"/><path d="M188,411 L203,412 C208,418 211.5,427 211.5,435.6 C211.5,446 208,453 203,459 L188,459 Z" fill="#fff" stroke="#262626" stroke-width="2.4" stroke-linejoin="round"/><path d="M197,415.5 C203,421 206.5,428 206.5,435.6 C206.5,444 203,450 197,456" stroke="#444" stroke-width="1.5" fill="none"/><path d="M186.4,405 Q187,401 193.3,400.6 L205,406 Q207.7,408 207.7,411 L206,413.5 L195,412 L188.2,410 Z" fill="#fff" stroke="#262626" stroke-width="2.3" fill="none" stroke-linejoin="round" stroke-linecap="round"/><path d="M186.4,458.4 L208,458.4 L209.2,474.8 L199.2,479.7 L188,474 Q186.4,472.5 186.4,470 Z" fill="#fff" stroke="#262626" stroke-width="2.3" fill="none" stroke-linejoin="round" stroke-linecap="round"/><path d="M199.2,465.7 L199.2,479.4 M187,466 L199.2,465.7 L209.2,462" stroke="#262626" stroke-width="2.3" fill="none" stroke-linejoin="round" stroke-linecap="round"/><path d="M186.4,405 L186.4,470 M195,411.5 L195,458" stroke="#262626" stroke-width="2.3" fill="none" stroke-linejoin="round" stroke-linecap="round"/><path d="M188.6,414 L193,414.7 L193,457 L188.6,456.5 Z" fill="#1e1e1e"/><path d="M198.3,377 L198.3,399.5" stroke="#555" stroke-width="1.7" fill="none"/></g>
<text transform="translate(198.9,372.4) scale(0.943,1)" x="0" y="0" text-anchor="middle" font-family="Liberation Sans" font-size="26.6" fill="#333" stroke="#333" stroke-width="0.45">7</text>
<text transform="translate(318.2,411.6) scale(0.969,1)" x="0" y="0" text-anchor="middle" font-family="Liberation Sans" font-size="23.9" fill="#333" stroke="#333" stroke-width="0.45">7</text>
<use href="#nut" x="245.7" y="386.4"/>
<use href="#nut" x="263" y="400"/>
<use href="#nut" x="246.6" y="428.3"/>
<use href="#nut" x="263" y="442"/>
<use href="#nut" x="363.8" y="425"/>
<use href="#nut" x="382" y="438.3"/>
<use href="#nut" x="363.8" y="467.4"/>
<use href="#nut" x="382" y="482"/>
<use href="#bolt" x="143" y="430"/>
<use href="#bolt" x="166.5" y="443.6"/>
<use href="#bolt" x="143" y="472"/>
<use href="#bolt" x="166.5" y="486.5"/>
<use href="#bolt" x="262" y="468.6"/>
<use href="#bolt" x="261" y="511"/>
<use href="#bolt" x="284" y="482.7"/>
<use href="#bolt" x="284" y="525"/>
<path d="M278,262.9 C282,260 286,260 292,262 L306,267" stroke="#2a2a2a" stroke-width="2.6" fill="none" stroke-linecap="round"/>
<path d="M289.7,276.7 C295,273 300,271 306,270" stroke="#2a2a2a" stroke-width="2.6" fill="none" stroke-linecap="round"/>
<path d="M302.4,291.6 C306,288 307.7,285 307.7,279 L307.7,270" stroke="#2a2a2a" stroke-width="2.6" fill="none" stroke-linecap="round"/>
<ellipse cx="273.2" cy="265.5" rx="4.6" ry="5.6" fill="#888" stroke="#1e1e1e" stroke-width="2.8"/>
<ellipse cx="285.4" cy="278.8" rx="4.6" ry="5.6" fill="#888" stroke="#1e1e1e" stroke-width="2.8"/>
<ellipse cx="298.2" cy="293.7" rx="4.6" ry="5.6" fill="#888" stroke="#1e1e1e" stroke-width="2.8"/>
<path d="M307,259 L318,255.5 L327,259 L328,266 L318,271 L307,268 Z" fill="#fff" stroke="#333" stroke-width="1.6" stroke-linejoin="round"/>
<path d="M309,259.5 L318,256.5 L322,259 L311,263 Z" fill="#333"/><path d="M305,265 L312,263 L313,271 L305,271Z" fill="#222"/>
<path d="M317.9,271.4 L317.9,296" stroke="#555" stroke-width="1.7" fill="none"/>
<text transform="translate(316.2,315.1) scale(0.942,1)" x="0" y="0" text-anchor="middle" font-family="Liberation Sans" font-size="23.9" fill="#333" stroke="#333" stroke-width="0.45">4</text>
<use href="#washer" x="325.3" y="245.8"/>
<use href="#washer" x="338" y="260.2"/>
<use href="#washer" x="350.3" y="273.5"/>
<ellipse cx="334.9" cy="242.6" rx="3.8" ry="5.6" fill="#1e1e1e"/>
<ellipse cx="347.1" cy="256.5" rx="3.8" ry="5.6" fill="#1e1e1e"/>
<ellipse cx="359.3" cy="270.8" rx="3.8" ry="5.6" fill="#1e1e1e"/>
<path d="M317,328 C325,327.5 329,334 328.5,341 C328,348 324,351 319,350.5" stroke="#333" stroke-width="1.8" fill="none"/>
<path d="M317,328 L312,331" stroke="#333" stroke-width="1.6"/>
<ellipse cx="312.5" cy="340.5" rx="7" ry="9.3" fill="#fff" stroke="#333" stroke-width="1.8"/>
<path d="M321,351 L321,366" stroke="#555" stroke-width="1.7" fill="none"/>
<text transform="translate(322.1,388.8) scale(0.809,1)" x="0" y="0" text-anchor="middle" font-family="Liberation Sans" font-size="27.6" fill="#333" stroke="#333" stroke-width="0.45">5</text>
<path d="M357,322 C367,318 376,314 387,309" stroke="#555" stroke-width="6.5" stroke-linecap="round"/>
<path d="M358,321.5 C367,318 376,314 386,309.5" stroke="#c8c8c8" stroke-width="3"/>
<path d="M360,322 L372,317" stroke="#777" stroke-width="1"/>
<path d="M384,305 L393,301.5 Q399,302 398.5,308 L396,311 L388,314 Q384,312 384,305 Z" fill="#2e2e2e"/><circle cx="391" cy="306" r="1.3" fill="#aaa"/>
<path d="M343,318 C349,313 356,316 357,324 C358,333 353,339 347,339" stroke="#333" stroke-width="1.8" fill="#fff"/>
<ellipse cx="342.8" cy="328.4" rx="6.2" ry="10" fill="#fff" stroke="#333" stroke-width="1.8"/>
<ellipse cx="342" cy="329" rx="3.4" ry="6" fill="none" stroke="#444" stroke-width="1.4"/>
<path d="M355.6,339 L355.6,360" stroke="#555" stroke-width="1.7" fill="none"/>
<text transform="translate(356.1,382.4) scale(0.870,1)" x="0" y="0" text-anchor="middle" font-family="Liberation Sans" font-size="28.9" fill="#333" stroke="#333" stroke-width="0.45">6</text>
<g transform="translate(0,0)"><path d="M427.3,458.1 L454.7,446.5 M430.2,484.8 L462,469.6" stroke="#555" stroke-width="1.8" fill="none" stroke-dasharray="6 3 2 3"/><path d="M454.7,446.5 L462,445.1 L469.2,465.3 L462,469.6 Z" stroke="#777" stroke-width="1.4" fill="none" stroke-linejoin="round"/><path d="M422.5,466 L438,459.5 L443.5,465 L445,468 L443,472 L428,479.7 Z" fill="#1e1e1e"/><ellipse cx="425.5" cy="472.5" rx="3.6" ry="7.2" fill="#111"/><path d="M431,463 L432,477 M435,461.5 L436,475.5" stroke="#666" stroke-width="1"/><path d="M442,465 L446,467.5 L443.5,471" fill="#bbb"/><ellipse cx="455.5" cy="460.3" rx="4.2" ry="7.2" fill="none" stroke="#222" stroke-width="2"/><ellipse cx="456.2" cy="460.5" rx="1.6" ry="4" fill="none" stroke="#666" stroke-width="1"/></g>
<g transform="translate(3.5,40.5)"><path d="M427.3,458.1 L454.7,446.5 M430.2,484.8 L462,469.6" stroke="#555" stroke-width="1.8" fill="none" stroke-dasharray="6 3 2 3"/><path d="M454.7,446.5 L462,445.1 L469.2,465.3 L462,469.6 Z" stroke="#777" stroke-width="1.4" fill="none" stroke-linejoin="round"/><path d="M422.5,466 L438,459.5 L443.5,465 L445,468 L443,472 L428,479.7 Z" fill="#1e1e1e"/><ellipse cx="425.5" cy="472.5" rx="3.6" ry="7.2" fill="#111"/><path d="M431,463 L432,477 M435,461.5 L436,475.5" stroke="#666" stroke-width="1"/><path d="M442,465 L446,467.5 L443.5,471" fill="#bbb"/><ellipse cx="455.5" cy="460.3" rx="4.2" ry="7.2" fill="none" stroke="#222" stroke-width="2"/><ellipse cx="456.2" cy="460.5" rx="1.6" ry="4" fill="none" stroke="#666" stroke-width="1"/></g>
<path d="M423.7,437 L423.7,458.1 L415.8,462.4 L415.8,482.6 L423.7,486.2 L430.2,484.8" stroke="#555" stroke-width="1.5" fill="none" stroke-linejoin="round"/>
<path d="M427.3,500 L415.8,502.8 L415.8,524.5 L424.4,527.4 L433.6,525" stroke="#555" stroke-width="1.5" fill="none" stroke-linejoin="round"/>
<path d="M432.4,527 L432.4,546" stroke="#555" stroke-width="1.7" fill="none"/>
<text transform="translate(423.5,435.5) scale(0.991,1)" x="0" y="0" text-anchor="middle" font-family="Liberation Sans" font-size="26.6" fill="#333" stroke="#333" stroke-width="0.45">9</text>
<text transform="translate(430.8,566.3) scale(0.785,1)" x="0" y="0" text-anchor="middle" font-family="Liberation Sans" font-size="25.5" fill="#333" stroke="#333" stroke-width="0.45">10</text>
<path d="M394,483.5 C393,474.5 398,470.5 403,471.5 C408,472.5 410,478.5 410,484.5 C409,489.5 403,490.5 399,489.5 C396,488.5 394,486.5 394,483.5 Z" fill="#fff" stroke="#333" stroke-width="1.7"/>
<path d="M406,474.5 C410,479.5 411,484.5 408,488.5" stroke="#222" stroke-width="2.2" fill="none"/>
<path d="M401,473.5 L401,485.5" stroke="#777" stroke-width="1"/>
<path d="M394.5,525.5 C393.5,516.5 398.5,512.5 403.5,513.5 C408.5,514.5 410.5,520.5 410.5,526.5 C409.5,531.5 403.5,532.5 399.5,531.5 C396.5,530.5 394.5,528.5 394.5,525.5 Z" fill="#fff" stroke="#333" stroke-width="1.7"/>
<path d="M406.5,516.5 C410.5,521.5 411.5,526.5 408.5,530.5" stroke="#222" stroke-width="2.2" fill="none"/>
<path d="M401.5,515.5 L401.5,527.5" stroke="#777" stroke-width="1"/>
<path d="M393,484 L380,505 L393,524" stroke="#555" stroke-width="1.7" fill="none"/>
<text transform="translate(371.9,518.5) scale(0.963,1)" x="0" y="0" text-anchor="middle" font-family="Liberation Sans" font-size="27.2" fill="#333" stroke="#333" stroke-width="0.45">8</text>
<path d="M518.9,568 C530,566 540,561 550,557 C556,554.5 562,552.5 568.5,551" stroke="#444" stroke-width="2.2" fill="none"/>
<path d="M518.9,576 C532,577 545,572 553,567 C560,563 566,560 572.6,557.8" stroke="#444" stroke-width="2.2" fill="none"/>
<path d="M567.8,545.5 L577,541.5 L579.4,555 L570,558 Z" fill="#262626" stroke="#222" stroke-width="1.5" stroke-linejoin="round"/>
<path d="M577,541.5 L588.3,534.6 L602,541.4 L604,555 L590.3,558.5 L579.4,555 Z" stroke="#333" stroke-width="1.8" fill="#fff" stroke-linejoin="round"/>
<path d="M577,541.5 L590,545 L602,541.4 M590,545 L590.3,558.5 M583,538 L595,541" stroke="#333" stroke-width="1.5" fill="none"/>
<path d="M467,543.8 L495.5,550.5 L497,600.7 L467,590.6 Z" stroke="#333" stroke-width="1.8" fill="#fff" stroke-linejoin="round"/>
<path d="M495.5,550.5 L517.2,545.5 L518.9,592.3 L497,600.7 Z" stroke="#333" stroke-width="1.8" fill="#fff" stroke-linejoin="round"/>
<path d="M467,543.8 L474,541.5 L507.2,541.5 L517.2,545.5" stroke="#333" stroke-width="1.8" fill="none" stroke-linejoin="round"/>
<path d="M473.7,542.5 L496,548 M480,541.8 L498,546.5 M486,541.6 L501,545.5" stroke="#555" stroke-width="1.2"/>
<path d="M497,552 L498.5,599" stroke="#999" stroke-width="2.6"/>
<text transform="translate(472,580) scale(0.85,1)" font-family="Liberation Sans" font-weight="bold" font-size="17" fill="#2a2a2a">T</text>
<text x="481" y="582" font-family="Liberation Sans" font-weight="bold" font-size="10" fill="#2a2a2a">o</text>
<path d="M497.4,522.5 L497.4,543" stroke="#555" stroke-width="1.7" fill="none"/>
<text transform="translate(498.0,515.0) scale(0.737,1)" x="0" y="0" text-anchor="middle" font-family="Liberation Sans" font-size="23.9" fill="#333" stroke="#333" stroke-width="0.45">11</text>
<g transform="translate(0,0)"><path d="M68,505.9 L85.1,500.4" stroke="#505050" stroke-width="6" stroke-linecap="round"/><path d="M68,505.9 L85.1,500.4" stroke="#f2f2f2" stroke-width="3" stroke-linecap="round"/><path d="M76,527.5 L92.7,520.9" stroke="#505050" stroke-width="6" stroke-linecap="round"/><path d="M76,527.5 L92.7,520.9" stroke="#f2f2f2" stroke-width="3" stroke-linecap="round"/><path d="M30.4,512.5 L63.8,497.3 C71,503 76,512 77.5,522 C78.5,528 78,533 77.5,536.8 L53.2,552 L35,555 C31,540 29.5,525 30.4,512.5 Z" stroke="#505050" stroke-width="1.6" fill="#fff" stroke-linejoin="round"/><path d="M63.8,497.3 C71,503 76,512 77.5,522 C78.5,528 78,533 77.5,536.8" stroke="#444" stroke-width="2.2" fill="none"/><path d="M49,508 L66,501 M52,530 L75,521 M56,545 L76,533" stroke="#777" stroke-width="1.2" fill="none" stroke-linejoin="round"/><path d="M30.4,512.5 C27,513 25.5,514 25,515.6 C20,523 12,534 6,542 Q3,546.5 6,548 C12,550 24,553 35,555 C31,540 29.5,525 30.4,512.5 Z" stroke="#505050" stroke-width="1.6" fill="#fff" stroke-linejoin="round"/><path d="M8,541 Q18,545 31,544 M12,535 Q20,538 29,537" stroke="#777" stroke-width="1.2" fill="none" stroke-linejoin="round"/><path d="M41.8,505 L48.5,502 C55,515 58,532 57.5,551.5 L51.5,553 C52,535 48.5,518 41.8,505 Z" stroke="#505050" stroke-width="1.6" fill="#fff" stroke-linejoin="round"/><path d="M29.6,534.5 L40.5,531 L45.6,552 L35,555.5 Z" stroke="#505050" stroke-width="1.6" fill="#fff" stroke-linejoin="round"/><path d="M32,537 L40,534.5 L43.5,550 L36,552.5 Z" stroke="#777" stroke-width="1.2" fill="none" stroke-linejoin="round"/><circle cx="38" cy="543" r="2.2" fill="none" stroke="#555" stroke-width="1.2"/></g>
<g transform="translate(68,83.5)"><path d="M68,505.9 L85.1,500.4" stroke="#505050" stroke-width="6" stroke-linecap="round"/><path d="M68,505.9 L85.1,500.4" stroke="#f2f2f2" stroke-width="3" stroke-linecap="round"/><path d="M76,527.5 L92.7,520.9" stroke="#505050" stroke-width="6" stroke-linecap="round"/><path d="M76,527.5 L92.7,520.9" stroke="#f2f2f2" stroke-width="3" stroke-linecap="round"/><path d="M30.4,512.5 L63.8,497.3 C71,503 76,512 77.5,522 C78.5,528 78,533 77.5,536.8 L53.2,552 L35,555 C31,540 29.5,525 30.4,512.5 Z" stroke="#505050" stroke-width="1.6" fill="#fff" stroke-linejoin="round"/><path d="M63.8,497.3 C71,503 76,512 77.5,522 C78.5,528 78,533 77.5,536.8" stroke="#444" stroke-width="2.2" fill="none"/><path d="M49,508 L66,501 M52,530 L75,521 M56,545 L76,533" stroke="#777" stroke-width="1.2" fill="none" stroke-linejoin="round"/><path d="M30.4,512.5 C27,513 25.5,514 25,515.6 C20,523 12,534 6,542 Q3,546.5 6,548 C12,550 24,553 35,555 C31,540 29.5,525 30.4,512.5 Z" stroke="#505050" stroke-width="1.6" fill="#fff" stroke-linejoin="round"/><path d="M8,541 Q18,545 31,544 M12,535 Q20,538 29,537" stroke="#777" stroke-width="1.2" fill="none" stroke-linejoin="round"/><path d="M41.8,505 L48.5,502 C55,515 58,532 57.5,551.5 L51.5,553 C52,535 48.5,518 41.8,505 Z" stroke="#505050" stroke-width="1.6" fill="#fff" stroke-linejoin="round"/><path d="M29.6,534.5 L40.5,531 L45.6,552 L35,555.5 Z" stroke="#505050" stroke-width="1.6" fill="#fff" stroke-linejoin="round"/><path d="M32,537 L40,534.5 L43.5,550 L36,552.5 Z" stroke="#777" stroke-width="1.2" fill="none" stroke-linejoin="round"/><circle cx="38" cy="543" r="2.2" fill="none" stroke="#555" stroke-width="1.2"/></g>
<path d="M57,445 L57,496" stroke="#555" stroke-width="1.7" fill="none"/>
<text transform="translate(37.0,439.0) scale(0.864,1)" x="-2.9" y="0" font-family="Liberation Serif" font-size="31.9" fill="#333" stroke="#333" stroke-width="0.4">15</text>
<path d="M124.7,529 L124.7,580" stroke="#555" stroke-width="1.7" fill="none"/>
<text transform="translate(106.0,525.5) scale(0.770,1)" x="-2.9" y="0" font-family="Liberation Serif" font-size="32.1" fill="#333" stroke="#333" stroke-width="0.4">15</text>
</g></g><use href="#all" filter="url(#fb)" opacity="0.55"/>
</svg></body></html>
